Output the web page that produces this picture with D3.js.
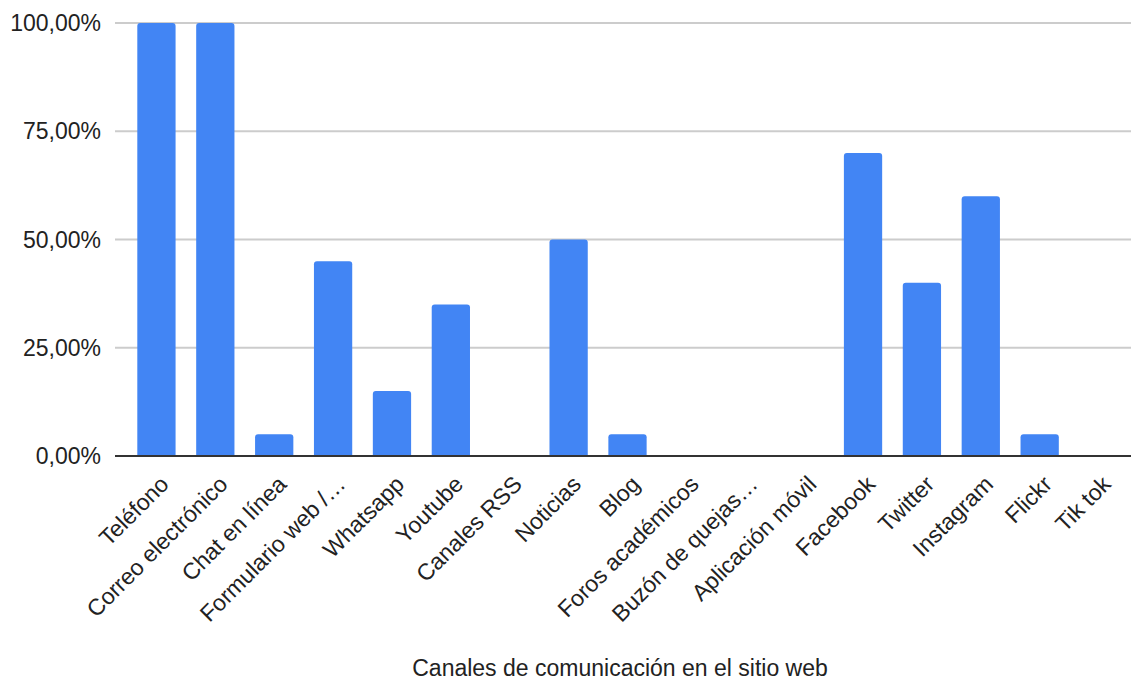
<!DOCTYPE html>
<html><head><meta charset="utf-8">
<script src="https://cdn.jsdelivr.net/npm/d3@7"></script>
<style>body{margin:0;background:#fff}svg{display:block}text{font-family:Arial,"Liberation Sans",sans-serif}</style>
</head><body><svg id="c" width="1131" height="680"></svg>
<script>
const categories = ["Teléfono","Correo electrónico","Chat en línea","Formulario web /…","Whatsapp","Youtube","Canales RSS","Noticias","Blog","Foros académicos","Buzón de quejas…","Aplicación móvil","Facebook","Twitter","Instagram","Flickr","Tik tok"];
const values = [100,100,5,45,15,35,0,50,5,0,0,0,70,40,60,5,0];
const yTicks = [0,25,50,75,100];
const xTitle = "Canales de comunicación en el sitio web";

const svg = d3.select("#c");
const x = d3.scaleBand().domain(categories).range([127,1128]).paddingInner(0.35).paddingOuter(0.175);
const y = d3.scaleLinear().domain([0,100]).range([456,23]);
const fmt = v => d3.format(".2f")(v).replace(".", ",") + "%";
const FS = 23;

// grid
svg.append("g").selectAll("line").data(yTicks.filter(d=>d>0)).join("line")
  .attr("x1",115).attr("x2",1131).attr("y1",d=>y(d)).attr("y2",d=>y(d))
  .attr("stroke","#cccccc").attr("stroke-width",2);

// y labels
svg.append("g").selectAll("text").data(yTicks).join("text")
  .attr("x",101).attr("y",d=>y(d)).attr("dy","0.35em").attr("text-anchor","end")
  .attr("font-size",FS).attr("fill","#222").text(fmt);

// bars
const r = 3;
const barData = values.map((v,i)=>({c:categories[i],v})).filter(d=>d.v>0);
svg.append("g").selectAll("path").data(barData).join("path")
  .attr("fill","#4285F4")
  .attr("d",d=>{
    const x0=x(d.c), w=x.bandwidth(), y0=y(d.v), y1=y(0);
    return `M${x0},${y1}V${y0+r}Q${x0},${y0} ${x0+r},${y0}H${x0+w-r}Q${x0+w},${y0} ${x0+w},${y0+r}V${y1}Z`;
  });

// baseline
svg.append("line").attr("x1",115).attr("x2",1131).attr("y1",y(0)).attr("y2",y(0))
  .attr("stroke","#333").attr("stroke-width",2);

// x labels
svg.append("g").selectAll("text").data(categories).join("text")
  .attr("transform",d=>`translate(${x(d)+x.bandwidth()/2+8},${480}) rotate(-45)`)
  .attr("text-anchor","end").attr("dy","0.35em")
  .attr("font-size",FS).attr("fill","#222").text(d=>d);

svg.append("text").attr("x",620).attr("y",676).attr("text-anchor","middle")
  .attr("font-size",FS).attr("fill","#222").text(xTitle);
</script></body></html>
